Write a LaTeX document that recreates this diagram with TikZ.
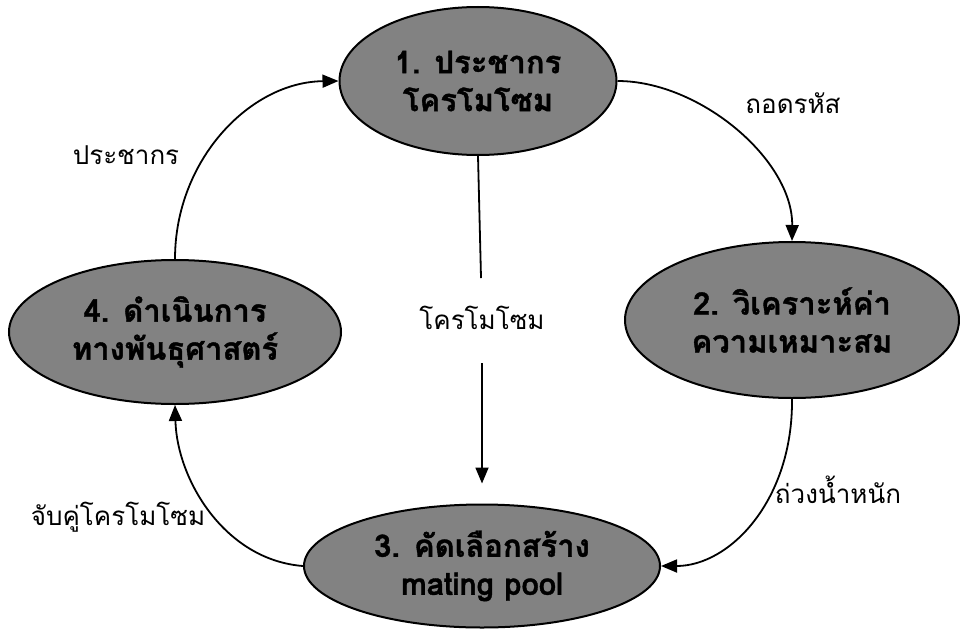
\documentclass[tikz,border=0pt]{standalone}
\usepackage{fontspec}
\usetikzlibrary{shapes.geometric,arrows.meta,calc}
\newfontfamily\thai[Script=Thai]{Loma}
\newfontfamily\thaib[Script=Thai,BoldFeatures={FakeBold=1.2}]{Loma}
\definecolor{ellgray}{RGB}{130,130,130}
\tikzset{
  stage/.style={ellipse, draw=black, line width=2pt, fill=ellgray, inner sep=0pt,
    align=center, font=\thaib\bfseries\fontsize{31}{38}\selectfont},
  lbl/.style={font=\thai\fontsize{26}{30}\selectfont, inner sep=0pt},
  arr/.style={line width=1.8pt, -{Triangle[length=16pt,width=13pt]}},
  ln/.style={line width=1.8pt}
}
\begin{document}
\begin{tikzpicture}[x=1pt,y=-1pt]
\useasboundingbox (0,0) rectangle (960,634);
\node[stage, minimum width=277pt, minimum height=148pt] (e1) at (478,81) {1. ประชากร\\โครโมโซม};
\node[stage, minimum width=334pt, minimum height=156pt] (e2) at (792,320) {2. วิเคราะห์ค่า\\ความเหมาะสม};
\node[stage, minimum width=356pt, minimum height=123pt] (e3) at (482,566) {3. คัดเลือกสร้าง\\mating pool};
\node[stage, minimum width=332pt, minimum height=144pt] (e4) at (175,332) {4. ดำเนินการ\\ทางพันธุศาสตร์};

\node[lbl] (l1) at (793,103) {ถอดรหัส};
\node[lbl] (l2) at (838,490) {ถ่วงน้ำหนัก};
\node[lbl] (l3) at (118,517) {จับคู่โครโมโซม};
\node[lbl] (l4) at (126,155) {ประชากร};
\node[lbl] (lc) at (482,318) {โครโมโซม};

\draw[arr] (e1.east) .. controls (700,81) and (793,160) .. (e2.north);
\draw[arr] (e2.south) .. controls (793,500) and (730,566) .. (e3.east);
\draw[arr] (e3.west) .. controls (225,560) and (177,480) .. (e4.south);
\draw[arr] (e4.north) .. controls (175,160) and (250,82) .. (e1.west);
\draw[ln, shorten >=40pt] (e1.south) -- (lc.center);
\draw[arr, shorten <=45pt, shorten >=20pt] (lc.center) -- (e3.north);
\end{tikzpicture}
\end{document}
